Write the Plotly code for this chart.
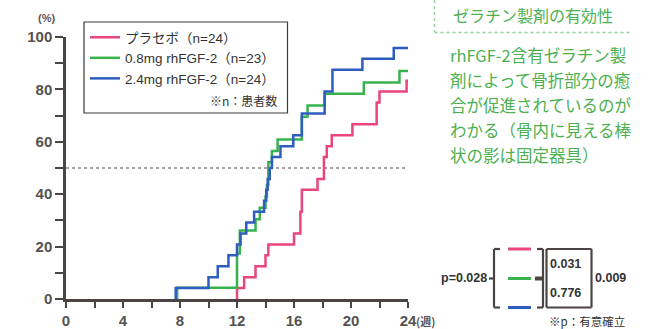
import plotly.graph_objects as go

# ---------------- data ----------------
series_names = ["プラセボ（n=24）", "0.8mg rhFGF-2（n=23）", "2.4mg rhFGF-2（n=24）"]
series_colors = ["#e8467c", "#37b24d", "#2f5cc0"]

weeks_placebo = [12.0, 12.5, 13.3, 14.0, 14.2, 16.0, 16.45, 16.55, 17.65, 18.1, 18.3, 18.65, 20.1, 21.8, 22.0, 23.9]
pct_placebo = [4.2, 8.3, 12.5, 16.7, 20.8, 25.0, 33.3, 41.7, 45.8, 54.2, 58.3, 62.5, 66.7, 75.0, 79.2, 83.3]

weeks_08 = [7.8, 12.0, 12.2, 13.3, 13.6, 14.0, 14.1, 14.2, 14.45, 14.85, 16.55, 16.95, 18.15, 20.9, 23.4]
pct_08 = [4.3, 17.4, 26.1, 30.4, 34.8, 39.1, 43.5, 52.2, 56.5, 60.9, 69.6, 73.9, 78.3, 82.6, 87.0]

weeks_24 = [7.7, 10.0, 10.65, 11.4, 12.0, 12.25, 12.65, 13.2, 13.9, 14.05, 14.15, 14.3, 14.45, 15.05, 15.95,
            16.55, 18.15, 18.7, 20.8, 23.0]
pct_24 = [4.2, 8.3, 12.5, 16.7, 20.8, 25.0, 29.2, 33.3, 37.5, 41.7, 45.8, 50.0, 54.2, 58.3, 62.5,
          70.8, 79.2, 87.5, 91.7, 95.8]

x_end = 24
median_line = 50
x_tickvals = [0, 2, 4, 6, 8, 10, 12, 14, 16, 18, 20, 22, 24]
x_ticktext = ["0", "", "4", "", "8", "", "12", "", "16", "", "20", "", "24"]
y_tickvals = [0, 10, 20, 30, 40, 50, 60, 70, 80, 90, 100]
y_ticktext = ["0", "", "20", "", "40", "", "60", "", "80", "", "100"]

legend_note = "※n：患者数"
title_text = "ゼラチン製剤の有効性"
body_lines = ["rhFGF-2含有ゼラチン製", "剤によって骨折部分の癒", "合が促進されているのが",
              "わかる（骨内に見える棒", "状の影は固定器具）"]
p_overall = "p=0.028"
p_pairs = ["0.031", "0.776"]
p_outer = "0.009"
p_note = "※p：有意確立"

# ---------------- figure ----------------
W, H = 671, 329
L, R, T, B = 66, 263, 37, 30
PW, PH = W - L - R, H - T - B

def px(xp):
    return (xp - L) / PW

def py(yp):
    return (H - B - yp) / PH

FONT = "Liberation Sans, Arial, Noto Sans CJK JP, sans-serif"
CJK = "Noto Sans CJK JP, sans-serif"
GREEN_TXT = "#4cb050"

fig = go.Figure()
for name, color, wk, pc in [(series_names[0], series_colors[0], weeks_placebo, pct_placebo),
                            (series_names[1], series_colors[1], weeks_08, pct_08),
                            (series_names[2], series_colors[2], weeks_24, pct_24)]:
    xs = [wk[0]] + wk + [x_end]
    ys = [0] + pc + [pc[-1]]
    fig.add_trace(go.Scatter(x=xs, y=ys, mode="lines", name=name,
                             line=dict(color=color, width=2.5, shape="hv")))

axis_common = dict(showgrid=False, zeroline=False, showline=True, linecolor="#4a4543", linewidth=2.5,
                   ticks="outside", tickcolor="#4a4543", tickwidth=2,
                   tickfont=dict(family=FONT, size=15, color="#55514f", weight=700))
fig.update_xaxes(range=[0, 24], tickmode="array", tickvals=x_tickvals, ticktext=x_ticktext,
                 ticklen=6, **axis_common)
fig.update_yaxes(range=[0, 100], tickmode="array", tickvals=y_tickvals, ticktext=y_ticktext,
                 ticklen=8, **axis_common)

shapes = []
# 50% reference line
shapes.append(dict(type="line", xref="x", yref="y", x0=0, x1=x_end, y0=median_line, y1=median_line,
                   line=dict(color="#8a8684", width=1.5, dash="dot"), layer="below"))
# legend box
shapes.append(dict(type="rect", xref="paper", yref="paper", x0=px(84), x1=px(287.5), y0=py(22), y1=py(113),
                   line=dict(color="#3a3a3a", width=1.2)))
# heading dashed frame
shapes.append(dict(type="line", xref="paper", yref="paper", x0=px(434.5), x1=px(434.5), y0=py(0), y1=py(32),
                   line=dict(color="#8fd494", width=1.5, dash="dot")))
shapes.append(dict(type="line", xref="paper", yref="paper", x0=px(434.5), x1=px(632), y0=py(32.5), y1=py(32.5),
                   line=dict(color="#8fd494", width=1.5, dash="dot")))

# p-value bracket diagram
bc = dict(color="#4a4543", width=2.2)
def seg(x0, y0, x1, y1, line=bc):
    shapes.append(dict(type="line", xref="paper", yref="paper", x0=px(x0), x1=px(x1), y0=py(y0), y1=py(y1),
                       line=line))
yt, ym, yb = 249, 278.5, 307.5
seg(494, yt, 494, yb); seg(494, yt, 500, yt); seg(494, yb, 500, yb); seg(489, ym, 494, ym)
seg(508, yt, 531, yt, dict(color=series_colors[0], width=3))
seg(508, ym, 531, ym, dict(color=series_colors[1], width=3))
seg(508, yb, 531, yb, dict(color=series_colors[2], width=3))
seg(543, yt, 543, yb); seg(537, yt, 543, yt); seg(537, yb, 543, yb)
seg(535, ym, 543, ym, dict(color="#4a4543", width=4))
seg(546.5, yt, 546.5, yb); seg(546.5, yt, 591.5, yt); seg(546.5, yb, 591.5, yb); seg(591.5, yt, 591.5, yb)

ann = []
def add_text(text, x, y, xanchor, font):
    ann.append(dict(text=text, xref="paper", yref="paper", x=px(x), y=py(y), xanchor=xanchor,
                    yanchor="middle", showarrow=False, font=font))

add_text("(%)", 46, 18, "center", dict(family=FONT, size=11, color="#5a5654", weight=700))
add_text("(週)", 414, 321, "left", dict(family=CJK, size=11, color="#5a5654", weight=700))
add_text(legend_note, 279, 100, "right", dict(family=CJK, size=12, color="#333333"))
add_text(title_text, 451, 15, "left", dict(family=CJK, size=16, color=GREEN_TXT))
for i, line in enumerate(body_lines):
    add_text(line, 448, 55 + 25 * i, "left", dict(family=CJK, size=16.5, color=GREEN_TXT))
pfont = dict(family=FONT, size=12.5, color="#333333", weight=700)
add_text(p_overall, 489, 278, "right", pfont)
add_text(p_pairs[0], 548, 263.5, "left", pfont)
add_text(p_pairs[1], 548, 292.5, "left", pfont)
add_text(p_outer, 593, 278, "left", pfont)
add_text(p_note, 547, 320.5, "left", dict(family=CJK, size=11.5, color="#333333"))

fig.update_layout(
    width=W, height=H, margin=dict(l=L, r=R, t=T, b=B, autoexpand=False),
    paper_bgcolor="white", plot_bgcolor="white",
    showlegend=True,
    legend=dict(x=px(85), y=py(22), xanchor="left", yanchor="top", bgcolor="rgba(0,0,0,0)",
                font=dict(family=FONT + ", " + CJK, size=13.5, color="#333333"), itemwidth=30,
                tracegroupgap=0),
    shapes=shapes, annotations=ann,
)
fig.write_html("out.html", config={"displayModeBar": False},
               post_script="document.body.style.margin='0px';")
